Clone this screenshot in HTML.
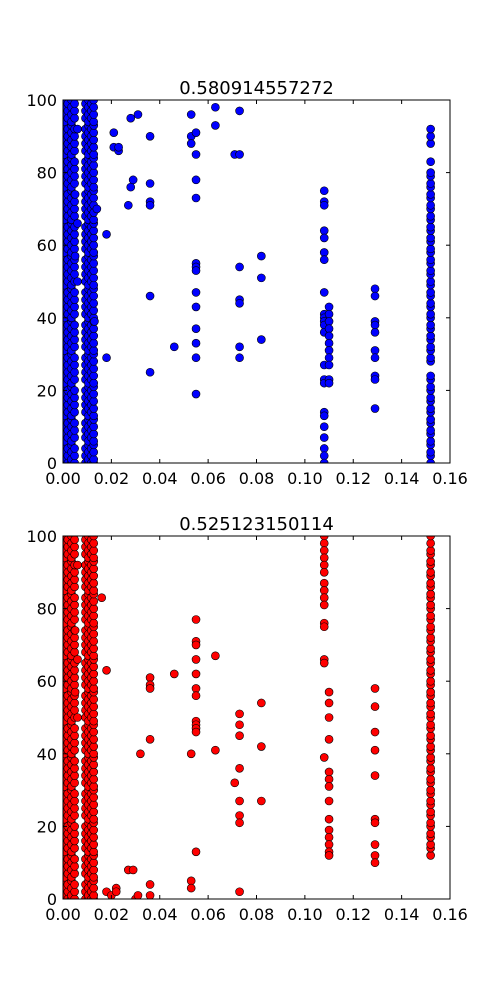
<!DOCTYPE html>
<html><head><meta charset="utf-8"><style>
body{margin:0;background:#fff;}
svg{display:block;font-family:"DejaVu Sans","Liberation Sans",sans-serif;}
</style></head><body>
<svg id="chart" width="500" height="1000" viewBox="0 0 500 1000"></svg>
<script>
const xTicks=[0,0.02,0.04,0.06,0.08,0.10,0.12,0.14,0.16];
const xTickLabels=["0.00","0.02","0.04","0.06","0.08","0.10","0.12","0.14","0.16"];
const yTicks=[0,20,40,60,80,100];
const yTickLabels=["0","20","40","60","80","100"];
const titles=["0.580914557272","0.525123150114"];

const denseFull=[0,1,3,5,6,8,10,12,13,15,17,19,21,22,24,26,28,30,31,33,35,37,39,40,42,44,46,48,49,51,53,55,57,58,60,62,64,66,67,69,71,73,75,76,78,80,82,84,85,87,89,91,93,94,96,98,100];
const denseA=[0,2,4,7,9,11,14,16,18,20,23,25,27,29,32,34,36,38,41,43,45,47,50,52,54,56,59,61,63,65,68,70,72,74,77,79,81,83,86,88,90,92,95,97,99];
const leftXs=[0.0006,0.002,0.0035,0.0048];
const midXs=[0.0093,0.0105,0.0117,0.0127];
const sparseLeftX=[0.006,0.005,0.006,0.005,0.006];
const sparseLeftY=[92,74,66,57,50];

const topScatterX=[0.014,0.013,0.018,0.018,0.021,0.021,0.023,0.023,0.027,0.028,0.028,0.029,0.031,0.036,0.036,0.036,0.036,0.036,0.036,0.046,0.053,0.053,0.053,0.055,0.055,0.055,0.055,0.055,0.055,0.055,0.055,0.055,0.055,0.055,0.055,0.055,0.063,0.063,0.071,0.073,0.073,0.073,0.073,0.073,0.073,0.073,0.082,0.082,0.082];
const topScatterY=[70,39,63,29,91,87,86,87,71,95,76,78,96,90,77,72,71,46,25,32,96,90,88,91,85,78,73,55,54,53,47,43,37,33,29,19,98,93,85,85,97,54,45,44,32,29,57,51,34];
const top108=[75,72,71,64,62,58,56,47,41,40,39,38,36,27,23,22,14,13,10,7,4,2,0];
const top110=[43,41,39,37,35,33,31,29,27,23,22];
const top129=[48,46,39,38,36,31,29,24,23,15];
const top152=[0,2,3,5,6,8,9,11,12,14,15,17,18,20,21,23,24,28,29,31,32,34,35,37,38,40,41,43,44,46,47,49,50,52,53,55,56,58,59,61,62,64,65,67,68,70,71,73,74,76,77,79,80,83,88,90,92];

const botScatterX=[0.016,0.018,0.018,0.020,0.022,0.022,0.027,0.029,0.030,0.031,0.032,0.036,0.036,0.036,0.036,0.036,0.036,0.046,0.053,0.053,0.053,0.055,0.055,0.055,0.055,0.055,0.055,0.055,0.055,0.055,0.055,0.055,0.055,0.063,0.063,0.071,0.073,0.073,0.073,0.073,0.073,0.073,0.073,0.073,0.082,0.082,0.082];
const botScatterY=[83,63,2,1,3,2,8,8,0,1,40,61,59,58,44,4,1,62,40,5,3,77,71,70,66,62,58,56,49,48,47,46,13,67,41,32,51,48,45,36,27,23,21,2,54,42,27];
const bot108=[100,98,96,94,92,90,87,85,83,81,76,75,66,65,39];
const bot110=[57,54,50,44,35,33,31,27,22,19,17,15,13,12];
const bot129=[58,53,46,41,34,22,21,15,12,10];
const bot152=[12,14,15,17,18,20,21,23,24,26,27,29,30,32,33,35,36,38,39,41,42,44,45,47,48,50,51,53,54,56,57,59,60,62,63,65,66,68,69,71,72,74,75,77,78,80,81,83,84,86,87,89,90,92,93,95,96,98,100];

const NS="http://www.w3.org/2000/svg";
const svg=document.getElementById('chart');
function mk(tag,attrs,parent){const e=document.createElementNS(NS,tag);for(const k in attrs)e.setAttribute(k,attrs[k]);(parent||svg).appendChild(e);return e;}

function panel(idx,top,color,colsX,colsY){
  const L=63,R=450,T=top,B=top+363;
  const sx=v=>L+(v-0)/(0.16)*(R-L);
  const sy=v=>B-(v-0)/100*(B-T);
  const g=mk('g',{});
  
  
  const clip=mk('clipPath',{id:'c'+idx},g);
  mk('rect',{x:L,y:T,width:R-L,height:B-T},clip);
  const pts=mk('g',{'clip-path':'url(#c'+idx+')'},g);
  
  
  for(let c=0;c<colsX.length;c++){
    const xs=colsX[c],ys=colsY[c];
    for(let i=0;i<ys.length;i++){
      const x=Array.isArray(xs)?xs[i]:xs;
      const p=mk('circle',{cx:sx(x),cy:sy(ys[i]),r:4,fill:color,stroke:'#000','stroke-width':0.6},pts);
      
      
    }
  }
  const frame=mk('rect',{x:L,y:T,width:R-L,height:B-T,fill:'none',stroke:'#000','stroke-width':1},g);
  
  
  xTicks.forEach((v,i)=>{
    const x=sx(v);
    mk('line',{x1:x,y1:B,x2:x,y2:B-4,stroke:'#000'},g);
    mk('line',{x1:x,y1:T,x2:x,y2:T+4,stroke:'#000'},g);
    const t=mk('text',{x:x,y:B+21,'font-size':16,'text-anchor':'middle'},g);
    t.textContent=xTickLabels[i];
    
    
  });
  yTicks.forEach((v,i)=>{
    const y=sy(v);
    mk('line',{x1:L,y1:y,x2:L+4,y2:y,stroke:'#000'},g);
    mk('line',{x1:R,y1:y,x2:R-4,y2:y,stroke:'#000'},g);
    const t=mk('text',{x:L-6,y:y+6,'font-size':16,'text-anchor':'end'},g);
    t.textContent=yTickLabels[i];
    
    
  });
  const tt=mk('text',{x:(L+R)/2,y:T-6,'font-size':18,'text-anchor':'middle'},g);
  tt.textContent=titles[idx];
  
  
}

const topColsX=[leftXs[0],leftXs[1],leftXs[2],leftXs[3],midXs[0],midXs[1],midXs[2],midXs[3],sparseLeftX,topScatterX,0.108,0.110,0.129,0.152];
const topColsY=[denseFull,denseA,denseFull,denseA,denseA,denseFull,denseA,denseFull,sparseLeftY,topScatterY,top108,top110,top129,top152];
const botColsX=[leftXs[0],leftXs[1],leftXs[2],leftXs[3],midXs[0],midXs[1],midXs[2],midXs[3],sparseLeftX,botScatterX,0.108,0.110,0.129,0.152];
const botColsY=[denseFull,denseA,denseFull,denseA,denseA,denseFull,denseA,denseFull,sparseLeftY,botScatterY,bot108,bot110,bot129,bot152];
panel(0,100,'#0000ff',topColsX,topColsY);
panel(1,536,'#ff0000',botColsX,botColsY);
</script>
</body></html>
